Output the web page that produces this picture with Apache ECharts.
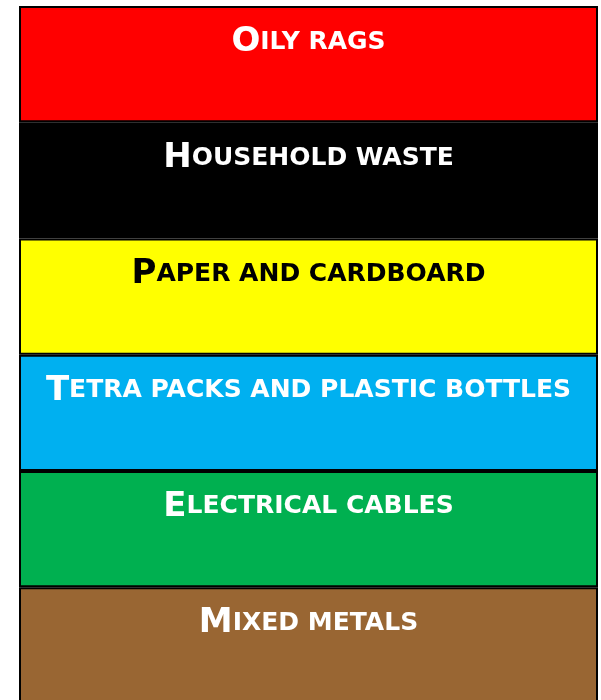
<!DOCTYPE html>
<html>
<head>
<meta charset="utf-8">
<script src="https://cdn.jsdelivr.net/npm/echarts@6/dist/echarts.min.js"></script>
<style>
  html, body { margin: 0; padding: 0; background: #fff; }
  #chart { width: 601px; height: 700px; }
</style>
</head>
<body>
<div id="chart"></div>
<script>
// one band per waste stream, top to bottom
var bandNames = ['Oily rags', 'Household waste', 'Paper and cardboard',
    'Tetra packs and plastic bottles', 'Electrical cables', 'Mixed metals'];
var bandHeights = [1, 1, 1, 1, 1, 1];
var bandColors = ['#ff0000', '#000000', '#ffff00', '#00b0f0', '#00b050', '#996633'];
var textColors = ['#ffffff', '#ffffff', '#000000', '#ffffff', '#ffffff', '#ffffff'];

// small caps: first letter full size, rest as smaller capitals
function smallCaps(name) {
    return '{big|' + name.charAt(0).toUpperCase() + '}{small|' + name.slice(1).toUpperCase() + '}';
}

var chart = echarts.init(document.getElementById('chart'));

var series = bandNames.map(function (name, i) {
    return {
        type: 'bar',
        name: name,
        stack: 'bin',
        barWidth: '100%',
        clip: false,
        data: [bandHeights[i]],
        itemStyle: { color: bandColors[i], borderColor: '#000', borderWidth: 2 },
        label: {
            show: true,
            position: ['50%', 17],
            align: 'center',
            verticalAlign: 'top',
            formatter: smallCaps(name),
            rich: {
                big: { fontFamily: 'DejaVu Sans', fontWeight: 'bold', fontSize: 34, color: textColors[i], lineHeight: 38 },
                small: { fontFamily: 'DejaVu Sans', fontWeight: 'bold', fontSize: 25, color: textColors[i], lineHeight: 38 }
            }
        }
    };
});

chart.setOption({
    animation: false,
    // bottom band runs past the lower edge of the picture
    grid: { left: 19, top: 6, right: 3, bottom: 0 },
    xAxis: { type: 'category', data: ['bin'], show: false },
    yAxis: { type: 'value', inverse: true, min: 0, max: 5.97, show: false },
    series: series
});
</script>
</body>
</html>
